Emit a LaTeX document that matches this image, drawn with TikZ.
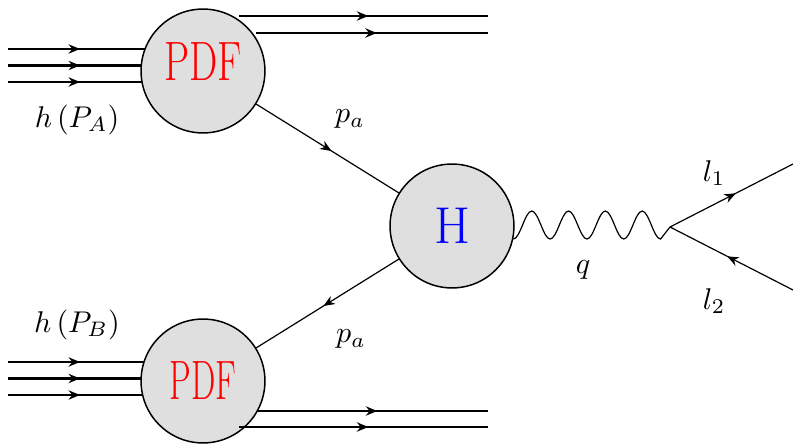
\documentclass[tikz,border=0pt]{standalone}
\usepackage{graphicx}
\usetikzlibrary{positioning, arrows.meta, decorations.markings, backgrounds}

\begin{document}
\begin{tikzpicture}[x=0.3333pt, y=-0.3333pt,
  blob/.style={circle, draw, fill=gray!25, line width=0.5pt, minimum size=41.3pt, inner sep=0pt},
  pdftext/.style={text=red, font=\fontsize{18.5}{20}\selectfont},
  fermion/.style={postaction={decorate}, decoration={markings,
    mark=at position 0.5 with {\arrow[xshift=1.6pt]{Stealth[length=3.8pt, width=3.1pt]}}}},
  parton/.style={fermion, line width=0.7pt},
  hadron/.style={line width=0.7pt, postaction={decorate}, decoration={markings,
    mark=at position 24pt with {\arrow{Stealth[length=3.8pt, width=3.1pt]}}}}]
  \useasboundingbox (0,0) rectangle (793,444);
  % blobs
  \node[blob, label={[pdftext, yshift=3.3pt]center:\scalebox{0.72}[1]{PDF}}] (pdfA) at (203,71) {};
  \node[blob, label={[pdftext]center:\scalebox{0.62}[1]{PDF}}] (pdfB) at (203,381) {};
  \node[blob, font=\LARGE, text=blue] (H) at (452,226) {H};
  % incoming hadrons
  \begin{scope}[on background layer]
    \foreach \y [count=\i] in {49,65.5,82} {
      \coordinate (inA\i) at (8,\y);
      \draw[hadron] (inA\i) -- (inA\i -| pdfA.center);
    }
    \foreach \y [count=\i] in {362,378.5,395} {
      \coordinate (inB\i) at (8,\y);
      \draw[hadron] (inB\i) -- (inB\i -| pdfB.center);
    }
  \end{scope}
  % remnants
  \coordinate (outA1) at (239,16);  \coordinate (endA1) at (488,16);
  \coordinate (outA2) at (256,33);  \coordinate (endA2) at (488,33);
  \coordinate (outB1) at (257,411); \coordinate (endB1) at (488,411);
  \coordinate (outB2) at (239,427); \coordinate (endB2) at (488,427);
  \foreach \r in {A1,A2,B1,B2}
    \draw[parton] (out\r) -- (end\r);
  % hard part
  \coordinate (vtx) at (670,227);
  \coordinate (l1end) at (793,164);
  \coordinate (l2end) at (793,290);
  \draw[fermion] (pdfA) -- (H);
  \draw[fermion] (H) -- (pdfB);
  \draw (H.-12) foreach \k in {1,...,4} {
      cos ++(9.2,-14) sin ++(9.2,-14) cos ++(9.2,14) sin ++(9.2,14)
    } -- (vtx);
  \draw[fermion] (vtx) -- (l1end);
  \draw[fermion] (l2end) -- (vtx);
  % labels
  \node (hA) at (77,120) {$h\,(P_A)$};
  \node (hB) at (77,325) {$h\,(P_B)$};
  \node (paA) at (350,119) {$p_a$};
  \node (paB) at (351,339) {$p_a$};
  \node (q) at (583,270) {$q$};
  \node (l1) at (714,173) {$l_1$};
  \node (l2) at (714,301) {$l_2$};
\end{tikzpicture}
\end{document}
